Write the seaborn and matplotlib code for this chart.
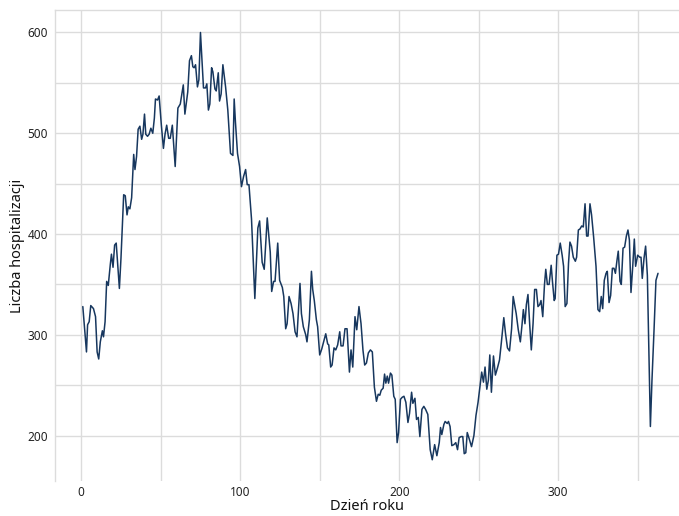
import matplotlib
matplotlib.use('Agg')
from matplotlib import pyplot as plt
import pandas as pd
import seaborn as sns

# day of year and number of hospitalisations
days = [
    1, 3.3, 4, 5, 6, 7.7, 9, 10, 11, 12, 13.3, 14, 15, 16, 17, 18.3, 19, 20,
    21, 22, 24, 25, 26.7, 27.7, 28.8, 29.6, 30.6, 31.7, 33, 33.8, 34.8, 35.8,
    36.9, 38, 38.8, 39.8, 40.6, 41.7, 42.7, 43.8, 45, 46, 46.7, 48, 49, 50.4,
    51.7, 52.7, 53.75, 55, 56, 57.3, 59.1, 60.8, 62.3, 64.2, 65.2, 67, 68.1,
    69.3, 70.2, 71, 71.9, 73.1, 74, 75, 76.9, 78.2, 79, 80, 80.9, 82, 82.8,
    84.1, 84.9, 86.2, 87, 88, 89.1, 90.8, 92.2, 93.9, 95.4, 96.2, 97, 98.3,
    99.6, 100.8, 102.1, 103.4, 104.4, 105.5, 107.1, 109.2, 111.1, 112.2,
    113.8, 115.1, 117, 118.9, 119.8, 121, 121.9, 123.6, 124.8, 126.5, 127.4,
    128.6, 129.5, 130.7, 132, 133.2, 134.5, 135.7, 137.6, 138.5, 139.7,
    141.2, 142, 143.5, 144.8, 145.6, 146.6, 147.9, 148.7, 150, 151.3, 152.5,
    153.8, 155, 155.7, 156.9, 157.8, 159, 160.1, 161.3, 162.6, 163.4, 164.7,
    165.9, 167.2, 168.7, 169.7, 170.8, 172.2, 173.3, 174.7, 176, 177.2,
    178.3, 179.4, 180.6, 181.9, 183.1, 184.4, 185.7, 186.8, 187.8, 188.7,
    189.9, 190.8, 191.6, 192.5, 193.3, 194.5, 195.4, 196.6, 197.5, 198.7,
    199.6, 200.8, 201.9, 203, 204.2, 205.5, 206.5, 207.8, 208.6, 209.9,
    210.9, 212, 213, 214.3, 215.5, 216.6, 218, 219.5, 220.8, 222.3, 223.7,
    225.2, 226, 226.8, 228.1, 228.9, 230.2, 231, 232, 233.1, 234.4, 235.6,
    236.7, 237.7, 239, 240, 240.9, 241.9, 242.8, 244, 245.5, 247, 248.3,
    249.6, 250.8, 251.9, 253, 254, 255.1, 256.1, 257, 258, 259.3, 260.5,
    261.8, 263.1, 264.3, 265.8, 266.9, 268.1, 269.4, 270.7, 271.7, 272.8,
    273.6, 274.9, 276.2, 277.2, 278.1, 279.1, 280, 281, 282.1, 283.1, 284.2,
    285.2, 286.3, 287.3, 288.4, 289.2, 290.3, 291.4, 292.2, 293.2, 294.3,
    295.6, 296.4, 297.5, 298.1, 299.2, 300.2, 301.3, 302.5, 303.4, 304.4,
    305.5, 306.5, 307.4, 308.4, 309.5, 310.8, 311.6, 312.7, 313.7, 314.8,
    315.8, 316.9, 317.9, 318.8, 320, 321, 322.3, 323.8, 325, 326.1, 327.1,
    328, 329, 330.1, 330.9, 332, 333, 334.1, 335.1, 336, 337, 337.8, 338.9,
    339.7, 340.8, 341.8, 342.9, 343.9, 344.8, 345.8, 346.9, 347.9, 348.7,
    350, 351.3, 352.1, 352.9, 354, 355, 356.1, 356.9, 358, 359, 360.3,
    361.5, 362.8,
]
hospitalizations = [
    328, 283, 310, 313, 329, 326, 318, 283, 276, 293, 304, 298, 313, 353,
    349, 370, 380, 367, 389, 391, 346, 376, 439, 438, 419, 427, 425, 436,
    479, 464, 477, 504, 507, 494, 499, 519, 499, 497, 499, 505, 500, 515,
    534, 533, 537, 508, 485, 499, 508, 495, 495, 508, 467, 525, 529, 548,
    519, 541, 572, 577, 566, 565, 568, 546, 553, 600, 545, 545, 549, 523,
    529, 565, 561, 544, 542, 560, 532, 539, 568, 546, 523, 480, 478, 534,
    511, 480, 467, 447, 457, 464, 449, 449, 415, 336, 406, 413, 372, 365,
    416, 382, 343, 353, 353, 391, 354, 347, 338, 306, 311, 338, 331, 321,
    303, 298, 351, 321, 308, 300, 293, 315, 363, 345, 334, 315, 308, 280,
    286, 293, 301, 291, 290, 268, 270, 287, 285, 290, 303, 289, 289, 306,
    306, 263, 285, 268, 318, 305, 328, 311, 285, 270, 272, 282, 285, 283,
    248, 234, 241, 240, 245, 247, 261, 252, 259, 252, 262, 260, 239, 236,
    193, 203, 236, 238, 239, 233, 213, 222, 243, 232, 237, 216, 218, 199,
    226, 229, 226, 221, 186, 176, 191, 180, 193, 208, 201, 211, 214, 212,
    214, 209, 190, 191, 193, 186, 198, 199, 199, 182, 183, 203, 197, 189,
    200, 220, 233, 249, 263, 253, 268, 246, 255, 280, 243, 279, 260, 267,
    275, 293, 317, 301, 287, 284, 306, 338, 328, 321, 305, 293, 309, 325,
    311, 330, 340, 310, 285, 311, 345, 345, 328, 330, 334, 318, 350, 365,
    350, 350, 369, 353, 334, 336, 379, 380, 391, 379, 368, 328, 331, 371,
    392, 388, 377, 373, 377, 404, 405, 408, 407, 430, 398, 398, 430, 419,
    397, 368, 325, 323, 338, 326, 354, 361, 363, 332, 339, 366, 366, 361,
    374, 383, 353, 350, 386, 387, 398, 404, 394, 342, 368, 395, 368, 379,
    377, 377, 356, 376, 388, 359, 295, 209, 255, 305, 354, 361,
]

x_ticks = [0, 100, 200, 300]
y_ticks = [200, 300, 400, 500, 600]

df = pd.DataFrame({'Dzień roku': days, 'Liczba hospitalizacji': hospitalizations})

sns.set_theme(style='whitegrid')
plt.rcParams['font.family'] = ['Noto Sans', 'DejaVu Sans']

fig = plt.figure(figsize=(6.79, 5.16), dpi=100)
ax = fig.add_axes([0.081, 0.068, 0.919, 0.912])

sns.lineplot(data=df, x='Dzień roku', y='Liczba hospitalizacji', ax=ax,
             color='#17375e', linewidth=1.1)

ax.set_xlim(-16.5, 376)
ax.set_ylim(155, 622)
ax.set_xticks(x_ticks)
ax.set_yticks(y_ticks)
ax.set_xticks([50, 150, 250, 350], minor=True)
ax.set_yticks([250, 350, 450, 550], minor=True)

grid_col = '#dcdcdc'
ax.grid(True, which='both', color=grid_col, linewidth=1.0)
ax.tick_params(axis='x', which='both', length=0, labelsize=8.5,
               labelcolor='#222222', pad=4)
ax.tick_params(axis='y', which='both', length=0, labelsize=8.5,
               labelcolor='#222222', pad=5)

for side in ['left', 'top']:
    ax.spines[side].set_visible(True)
    ax.spines[side].set_color(grid_col)
    ax.spines[side].set_linewidth(1.0)
for side in ['right', 'bottom']:
    ax.spines[side].set_visible(False)

ax.set_xlabel('Dzień roku', fontsize=10.5, color='#111111', labelpad=0)
ax.set_ylabel('Liczba hospitalizacji', fontsize=10.5, color='#111111',
              labelpad=2)

plt.savefig('out.png', dpi=100)
plt.close(fig)
